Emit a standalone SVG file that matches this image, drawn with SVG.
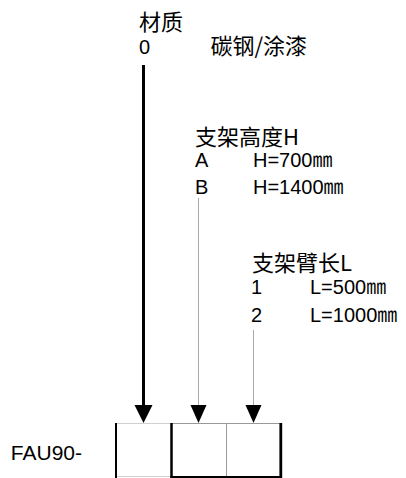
<svg xmlns="http://www.w3.org/2000/svg" width="406" height="478" viewBox="0 0 406 478">
<defs>
<style>
.cjk{font-family:"Noto Sans CJK SC","Noto Sans",sans-serif;font-size:22px;fill:#000}
.lat{font-family:"Liberation Sans","Noto Sans CJK SC",sans-serif;font-size:20px;fill:#000}
.thick{stroke:#000;stroke-width:3;fill:none}
.thin{stroke:#aaa;stroke-width:1;fill:none}
.head{fill:#000}
</style>
</defs>
<rect width="406" height="478" fill="#fff"/>
<g id="material">
<text class="cjk" x="139" y="30">材质</text>
<text class="lat" x="139" y="54">0</text>
<text class="cjk" x="210.5" y="54">碳钢/涂漆</text>
</g>
<g id="height">
<text class="cjk" x="195" y="145">支架高度H</text>
<text class="lat" x="195" y="167">A</text>
<text class="lat" x="253" y="167">H=700㎜</text>
<text class="lat" x="195" y="194">B</text>
<text class="lat" x="253" y="194">H=1400㎜</text>
</g>
<g id="arm">
<text class="cjk" x="252" y="270.5">支架臂长L</text>
<text class="lat" x="251" y="294">1</text>
<text class="lat" x="310" y="294">L=500㎜</text>
<text class="lat" x="251" y="322">2</text>
<text class="lat" x="310" y="322">L=1000㎜</text>
</g>
<g id="prefix">
<text class="lat" x="82" y="460" text-anchor="end" style="font-size:21px">FAU90-</text>
</g>
<g id="code-boxes">
<line x1="115" y1="423.5" x2="171" y2="423.5" stroke="#d0d0d0" stroke-width="1"/>
<line x1="115" y1="476.5" x2="171" y2="476.5" stroke="#d0d0d0" stroke-width="1"/>
<line x1="171" y1="423.5" x2="282" y2="423.5" stroke="#999" stroke-width="1"/>
<line x1="226.5" y1="423.5" x2="226.5" y2="477" stroke="#999" stroke-width="1"/>
<line x1="116" y1="423" x2="116" y2="478" stroke="#000" stroke-width="2"/>
<line x1="171.5" y1="423" x2="171.5" y2="478" stroke="#000" stroke-width="2.5"/>
<line x1="170.5" y1="477" x2="282" y2="477" stroke="#000" stroke-width="2"/>
<line x1="280.8" y1="423" x2="280.8" y2="478" stroke="#000" stroke-width="2.8"/>
</g>
<g id="connectors">
<line class="thick" x1="143.5" y1="65" x2="143.5" y2="406"/>
<polygon class="head" points="134.5,405 152.5,405 143.5,423"/>
<line class="thin" x1="198.5" y1="198" x2="198.5" y2="406"/>
<polygon class="head" points="190.5,405 206.5,405 198.5,423"/>
<line class="thin" x1="253.5" y1="330" x2="253.5" y2="406"/>
<polygon class="head" points="245.5,405 261.5,405 253.5,423"/>
</g>
</svg>
